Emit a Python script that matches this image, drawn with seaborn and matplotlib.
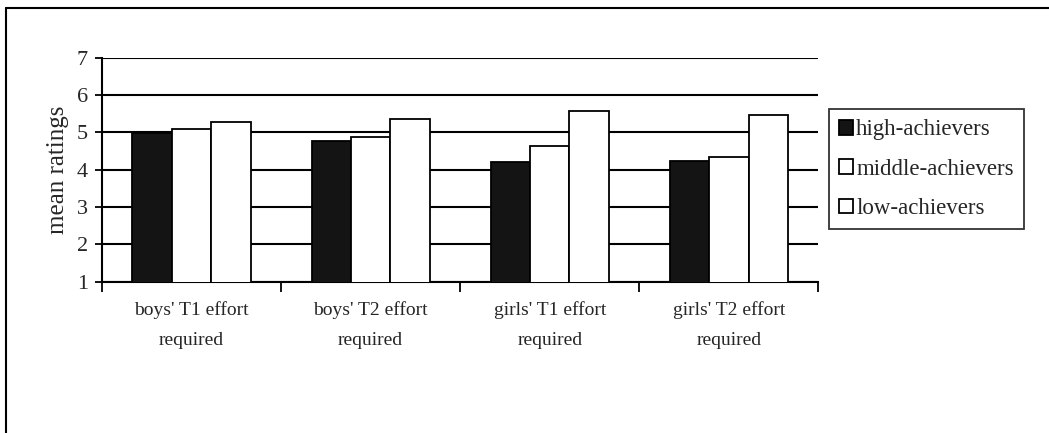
import numpy as np
import pandas as pd
import seaborn as sns
from matplotlib import pyplot as plt
from matplotlib.lines import Line2D
from matplotlib.ticker import FixedLocator

categories = ["boys' T1 effort\nrequired", "boys' T2 effort\nrequired",
              "girls' T1 effort\nrequired", "girls' T2 effort\nrequired"]
groups = ['high-achievers', 'middle-achievers', 'low-achievers']
high = [4.98, 4.77, 4.20, 4.23]
middle = [5.09, 4.87, 4.64, 4.35]
low = [5.29, 5.37, 5.57, 5.46]
y_ticks = [1, 2, 3, 4, 5, 6, 7]

rows = []
for vals, g in zip([high, middle, low], groups):
    for c, v in zip(categories, vals):
        rows.append({'category': c, 'group': g, 'rating': v})
df = pd.DataFrame(rows)

sns.set_style('white')
plt.rcParams['font.family'] = ['Liberation Serif', 'DejaVu Serif']

fig = plt.figure(figsize=(10.49, 4.33), dpi=100)
ax = fig.add_axes([0.0972, 0.3494, 0.683, 0.5173])

palette = {'high-achievers': '#141414', 'middle-achievers': 'white', 'low-achievers': 'white'}
sns.barplot(data=df, x='category', y='rating', hue='group', hue_order=groups,
            palette=palette, width=0.66, edgecolor='black', linewidth=1.3,
            ax=ax, zorder=3, legend=True)

ax.set_ylim(1, 7)
ax.set_xlim(-0.5, 3.5)
ax.set_yticks(y_ticks)
ax.yaxis.grid(True, color='black', linewidth=1.5, zorder=0)
ax.set_axisbelow(True)
for s in ['top', 'right']:
    ax.spines[s].set_visible(False)
for s in ['left', 'bottom']:
    ax.spines[s].set_color('black')
    ax.spines[s].set_linewidth(1.5)

ax.tick_params(axis='y', which='major', direction='out', length=5, width=1.3,
               color='black', left=True, labelsize=16, pad=5)
ax.tick_params(axis='x', which='major', length=0, labelsize=14, pad=14)
for t in ax.get_xticklabels():
    t.set_linespacing(2.0)
ax.xaxis.set_minor_locator(FixedLocator([-0.5, 0.5, 1.5, 2.5, 3.5]))
ax.tick_params(axis='x', which='minor', direction='out', length=7, width=1.3,
               color='black', bottom=True)
ax.set_xlabel('')
ax.set_ylabel('mean ratings', fontsize=18, labelpad=6)

handles, labels = ax.get_legend_handles_labels()
ax.get_legend().remove()
leg = fig.legend(handles, labels, loc='upper left', bbox_to_anchor=(0.790, 0.748),
                 borderaxespad=0, frameon=True, fancybox=False, fontsize=16.5,
                 handlelength=0.6, handleheight=0.6, handletextpad=0.15,
                 labelspacing=0.8, borderpad=0.45)
leg.get_frame().set_edgecolor('black')
leg.get_frame().set_linewidth(1.3)

# outer frame of the scanned figure
fig.add_artist(Line2D([0.006, 1.0], [1 - 8 / 433, 1 - 8 / 433], color='black', linewidth=1.5))
fig.add_artist(Line2D([0.006, 0.006], [0.0, 1 - 8 / 433], color='black', linewidth=1.5))

fig.savefig('out.png', dpi=100)
